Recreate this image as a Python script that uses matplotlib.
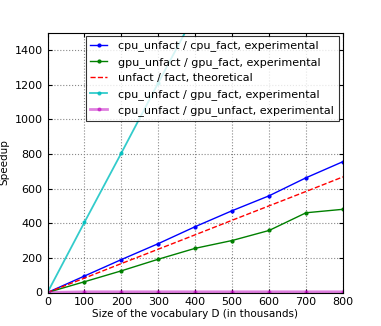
import matplotlib
matplotlib.use("Agg")
import matplotlib.pyplot as plt

vocab = [0, 100, 200, 300, 400, 500, 600, 700, 800]
cpu_cpu = [0, 95, 190, 282, 380, 472, 558, 662, 755]
gpu_gpu = [0, 62, 125, 192, 255, 300, 358, 460, 480]
theory = [0, 83, 167, 250, 333, 417, 500, 583, 667]
cpu_gpufact = [0, 405, 805, 1210, 1610, 2010, 2410, 2810, 3220]
cpu_gpuunfact = [0, 4, 4, 4, 4, 4, 4, 4, 4]

fig = plt.figure(figsize=(3.81, 3.26), dpi=100)
ax = fig.add_axes([47.5/381, 1 - 292.5/326, (343 - 47.5)/381, (292.5 - 32.5)/326])

ax.plot(vocab, cpu_cpu, color='b', marker='.', markersize=4, linewidth=1,
        label='cpu_unfact / cpu_fact, experimental')
ax.plot(vocab, gpu_gpu, color='g', marker='.', markersize=4, linewidth=1,
        label='gpu_unfact / gpu_fact, experimental')
ax.plot(vocab, theory, color='r', linestyle='--', linewidth=1,
        label='unfact / fact, theoretical')
ax.plot(vocab, cpu_gpufact, color='c', marker='.', markersize=4, linewidth=1.3,
        alpha=0.8, label='cpu_unfact / gpu_fact, experimental')
ax.plot(vocab, cpu_gpuunfact, color='m', marker='.', markersize=4, linewidth=2,
        alpha=0.5, label='cpu_unfact / gpu_unfact, experimental')

ax.set_xlim(0, 800)
ax.set_ylim(0, 1500)
ax.set_xticks(range(0, 801, 100))
ax.set_yticks(range(0, 1401, 200))
ax.grid(True, color='#888888', linestyle=':', linewidth=0.8)
ax.tick_params(labelsize=8, direction='in', length=3, top=True, right=True)
ax.set_xlabel('Size of the vocabulary D (in thousands)', fontsize=7.5, labelpad=1)
ax.set_ylabel('Speedup', fontsize=7.5, labelpad=4)
for s in ax.spines.values():
    s.set_linewidth(0.8)

leg = ax.legend(loc='upper right', fontsize=8, frameon=True, fancybox=False,
                borderpad=0.4, labelspacing=0.5, handlelength=1.5,
                handletextpad=1.0, borderaxespad=0,
                bbox_to_anchor=(338.5/381, 1 - 36/326),
                bbox_transform=fig.transFigure)
leg.get_frame().set_edgecolor('black')
leg.get_frame().set_linewidth(0.8)

fig.savefig('out.png', dpi=100)
